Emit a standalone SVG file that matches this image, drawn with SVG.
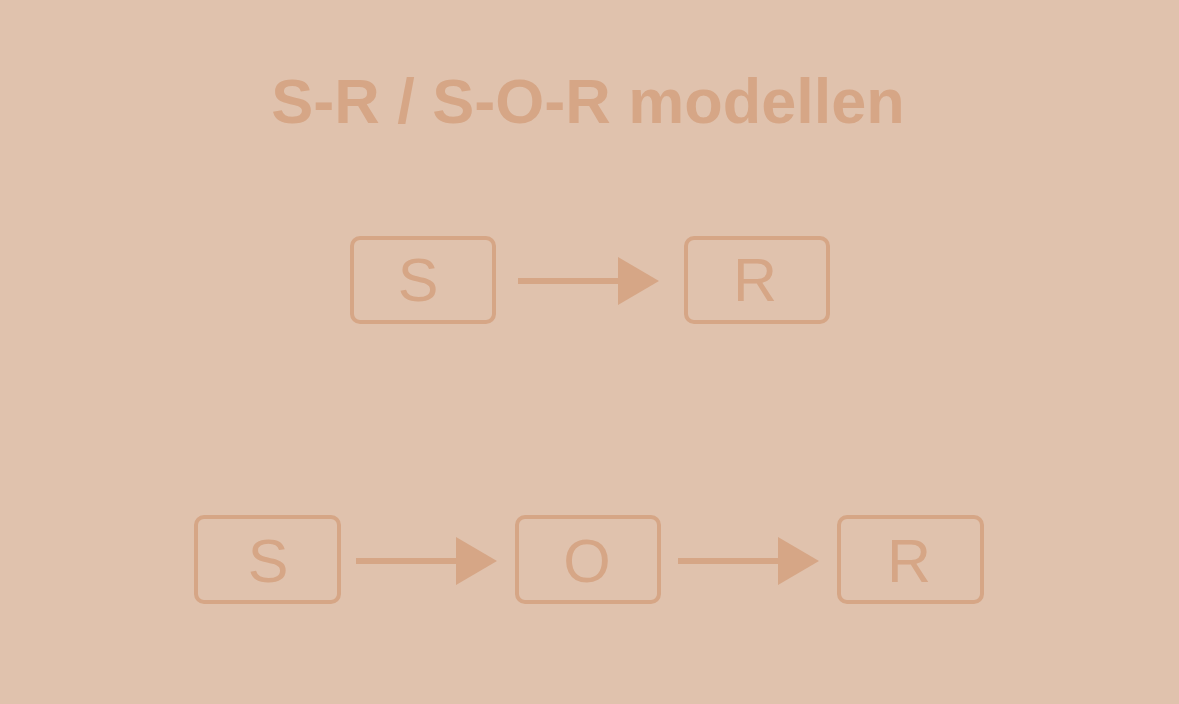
<svg xmlns="http://www.w3.org/2000/svg" width="1179" height="704" viewBox="0 0 1179 704">
<defs>
<style>
.box{fill:none;stroke:#D6A686;stroke-width:4}
.lbl{font-family:"Liberation Sans",Arial,sans-serif;font-size:61px;fill:#D6A686;text-anchor:middle}
.title{font-family:"Liberation Sans",Arial,sans-serif;font-size:63px;font-weight:bold;fill:#D6A686;text-anchor:middle}
.ln{stroke:#D6A686;stroke-width:6;fill:none}
.hd{fill:#D6A686}
</style>
</defs>
<rect width="1179" height="704" fill="#E0C2AD"/>
<text class="title" x="588" y="123">S-R / S-O-R modellen</text>
<g id="top-S"><rect class="box" x="352" y="238" width="142" height="84" rx="8"/><text class="lbl" x="418" y="301">S</text></g>
<g id="top-R"><rect class="box" x="686" y="238" width="142" height="84" rx="8"/><text class="lbl" x="755" y="301">R</text></g>
<g id="bot-S"><rect class="box" x="196" y="517" width="143" height="85" rx="8"/><text class="lbl" x="268" y="582">S</text></g>
<g id="bot-O"><rect class="box" x="517" y="517" width="142" height="85" rx="8"/><text class="lbl" x="587" y="582">O</text></g>
<g id="bot-R"><rect class="box" x="839" y="517" width="143" height="85" rx="8"/><text class="lbl" x="909" y="582">R</text></g>
<g id="connectors">
<line class="ln" x1="518" y1="281" x2="620" y2="281"/><polygon class="hd" points="618,257 659,281 618,305"/>
<line class="ln" x1="356" y1="561" x2="458" y2="561"/><polygon class="hd" points="456,537 497,561 456,585"/>
<line class="ln" x1="678" y1="561" x2="780" y2="561"/><polygon class="hd" points="778,537 819,561 778,585"/>
</g>
</svg>
